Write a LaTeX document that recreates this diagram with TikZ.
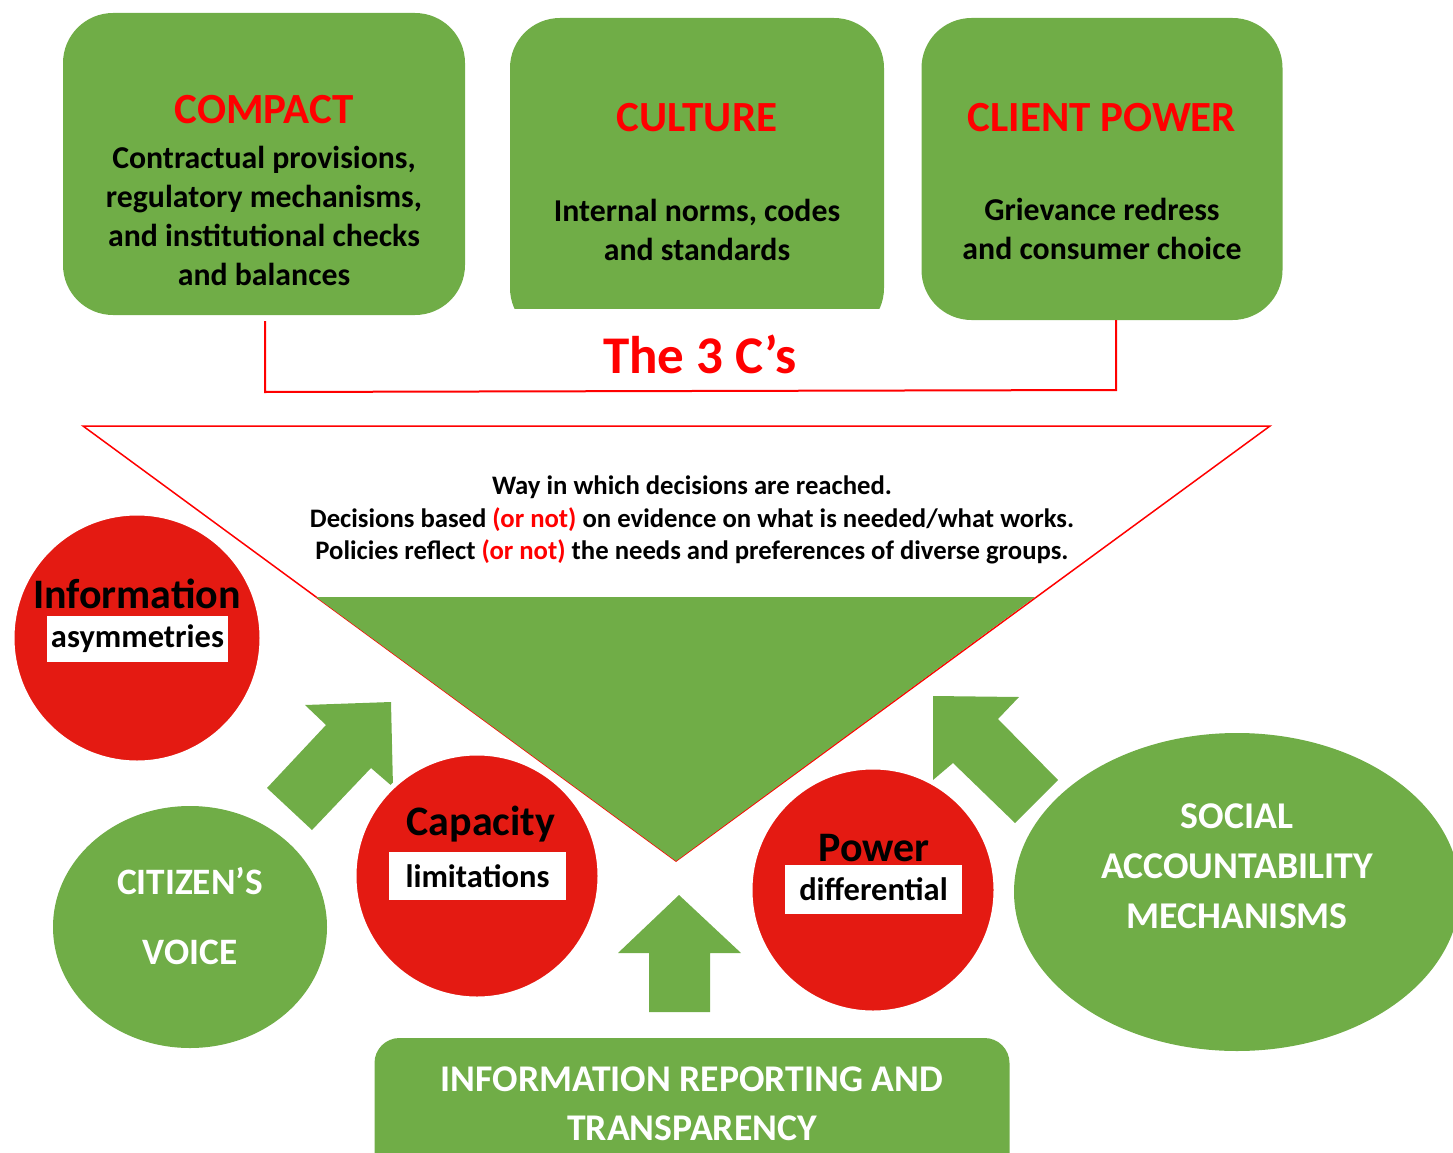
\documentclass[tikz,border=0pt]{standalone}
\usepackage{fontspec}
\setmainfont{Carlito}
\usetikzlibrary{shapes.geometric}
\definecolor{leaf}{RGB}{112,173,71}
\definecolor{signred}{RGB}{228,26,18}
\definecolor{headred}{RGB}{255,0,0}

\begin{document}
\begin{tikzpicture}[x=1pt, y=-1pt, font=\bfseries,
    cbox/.style = {fill=leaf, rounded corners=50pt},
    ctitle/.style = {text=headred, inner sep=0pt, font=\bfseries\fontsize{43}{50}\selectfont},
    cbody/.style = {align=center, inner sep=0pt, font=\bfseries\fontsize{31.8}{39}\selectfont},
    sign/.style = {circle, fill=signred, draw=white, line width=5pt, minimum size=250pt},
    signtitle/.style = {inner sep=0pt, font=\bfseries\fontsize{42}{50}\selectfont},
    signtag/.style = {fill=white, inner sep=0pt, font=\bfseries\fontsize{32.5}{39}\selectfont},
    blob/.style = {ellipse, fill=leaf},
    blobtext/.style = {align=center, text=white, inner sep=0pt},
    ]
    \useasboundingbox (0,0) rectangle (1453,1153);
    \clip (0,0) rectangle (1453,1153);

    % the 3 C's
    \node[cbox, minimum width=402pt, minimum height=302pt] (compact) at (264,164) {};
    \begin{scope}
        \clip (500,0) rectangle (900,308);
        \node[cbox, minimum width=374pt, minimum height=320pt] (culture) at (697,178) {};
    \end{scope}
    \node[cbox, minimum width=361pt, minimum height=302pt] (client) at (1102,169) {};

    \node[ctitle] (t1) at (264,110) {COMPACT};
    \node[cbody] (b1) at (264,216) {Contractual provisions,\\regulatory mechanisms,\\and institutional checks\\and balances};
    \node[ctitle] (t2) at (697,118) {CULTURE};
    \node[cbody] (b2) at (697,230) {Internal norms, codes\\and standards};
    \node[ctitle] (t3) at (1102,118) {CLIENT POWER};
    \node[cbody] (b3) at (1102,229) {Grievance redress\\and consumer choice};

    \coordinate (k1) at (265,321);
    \coordinate (k2) at (1116,320);
    \draw[headred, line width=2pt] (k1) -- (k1 |- 0,392) -- (k2 |- 0,390) -- (k2);
    \node[text=headred, inner sep=0pt, font=\bfseries\fontsize{53}{60}\selectfont] (three) at (700,354) {The 3 C’s};

    % decision funnel
    \coordinate (f1) at (83,426);
    \coordinate (f2) at (1270,426);
    \coordinate (f3) at (676,861);
    \draw[headred, line width=1.5pt] (f1) -- (f2) -- (f3) -- cycle;
    \fill[leaf] (316,597) -- (1035,597) -- (f3) -- cycle;
    \node[align=center, inner sep=0pt, font=\bfseries\fontsize{26.7}{32.5}\selectfont] (way) at (692,520)
        {Way in which decisions are reached.\\
         Decisions based \textcolor{headred}{(or not)} on evidence on what is needed/what works.\\
         Policies reflect \textcolor{headred}{(or not)} the needs and preferences of diverse groups.};

    % block arrows
    \fill[leaf] (391,702) -- (305,705) -- (326,725) -- (267,788) -- (312,830) -- (371,768) -- (393,787) -- cycle;
    \fill[leaf] (933,696) -- (1019,697) -- (998,719) -- (1058,780) -- (1015,823) -- (953,763) -- (933,780) -- cycle;
    \fill[leaf] (679,895) -- (741,953) -- (710,953) -- (710,1012) -- (649,1012) -- (649,953) -- (618,953) -- cycle;

    % barriers
    \node[sign] (info) at (137,638) {};
    \node[signtitle] (info1) at (137,594) {Information};
    \node[signtag, minimum width=181pt, minimum height=46pt] (info2) at (137.5,639) {asymmetries};

    \node[sign, minimum size=246pt] (cap) at (477,876) {};
    \node[signtitle] (cap1) at (481,824) {Capacity};
    \node[signtag, minimum width=177pt, minimum height=48pt] (cap2) at (477.5,876) {limitations};

    \node[sign, minimum size=246pt] (pow) at (873,890) {};
    \node[signtitle] (pow1) at (874,848) {Power};
    \node[signtag, minimum width=177pt, minimum height=49pt] (pow2) at (873.5,889.5) {differential};

    % levers
    \node[blob, minimum width=274pt, minimum height=242pt] (voice) at (190,927) {};
    \node[blobtext, font=\bfseries\fontsize{37.3}{70}\selectfont] (voice1) at (190,916) {CITIZEN’S\\VOICE};

    \node[blob, minimum width=446pt, minimum height=318pt] (social) at (1237,892) {};
    \node[blobtext, font=\bfseries\fontsize{37.8}{50}\selectfont] (social1) at (1237,866) {SOCIAL\\ACCOUNTABILITY\\MECHANISMS};

    \node[fill=leaf, rounded corners=25pt, minimum width=635pt, minimum height=160pt] (report) at (692,1118) {};
    \node[blobtext, font=\bfseries\fontsize{37.7}{49}\selectfont] (report1) at (692,1104) {INFORMATION REPORTING AND\\TRANSPARENCY};

\end{tikzpicture}
\end{document}
